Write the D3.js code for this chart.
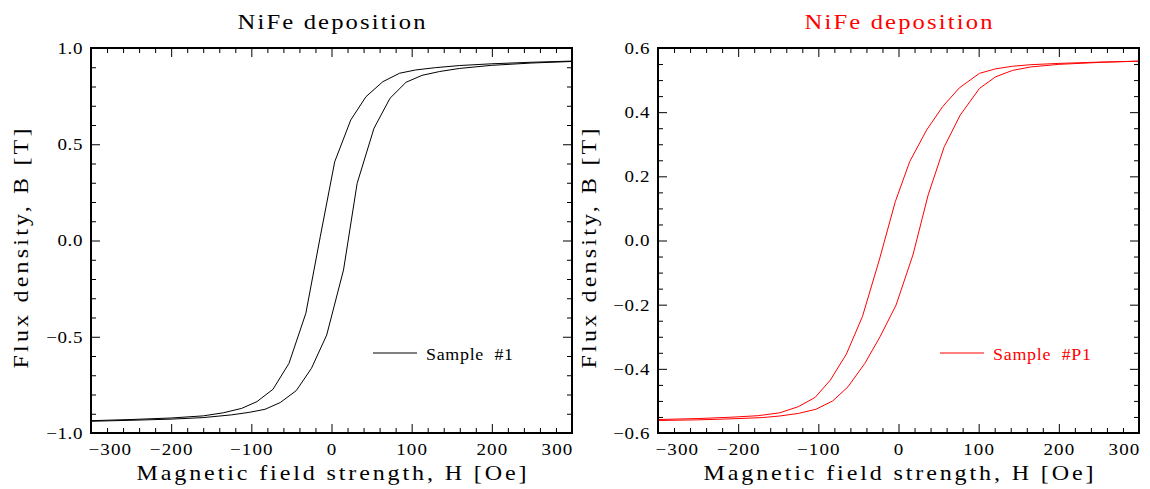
<!DOCTYPE html>
<html>
<head>
<meta charset="utf-8">
<script src="https://cdn.jsdelivr.net/npm/d3@7"></script>
<style>
  html, body { margin: 0; padding: 0; background: #fff; }
  svg { display: block; }
  text { font-family: "Liberation Serif", "DejaVu Serif", serif; white-space: pre; }
</style>
</head>
<body>
<svg id="chart" width="1150" height="489"></svg>
<script>
// Hysteresis loops of two NiFe depositions: flux density B [T] versus field H [Oe].

// Sample #1 — descending branch (from +saturation down)
const fieldDown1 = [300, 250, 200, 160, 130, 105, 85, 64, 43, 24, 4, -14, -32, -53, -73, -93, -112, -135, -160, -200, -250, -300];
const fluxDown1  = [0.932, 0.926, 0.918, 0.909, 0.898, 0.886, 0.869, 0.825, 0.747, 0.626, 0.409, 0.02, -0.378, -0.638, -0.773, -0.837, -0.872, -0.895, -0.911, -0.922, -0.930, -0.936];
// Sample #1 — ascending branch (from -saturation up)
const fieldUp1 = [-300, -250, -200, -160, -125, -103, -83, -64, -44, -25, -6, 15, 32, 53, 73, 93, 113, 135, 160, 200, 250, 300];
const fluxUp1  = [-0.939, -0.934, -0.928, -0.920, -0.906, -0.893, -0.877, -0.842, -0.780, -0.664, -0.491, -0.153, 0.297, 0.583, 0.739, 0.822, 0.858, 0.878, 0.894, 0.910, 0.922, 0.930];

// Sample #P1 — descending branch
const fieldDown2 = [300, 250, 200, 165, 142, 121, 101, 76, 55, 35, 14, -4, -24, -45, -65, -85, -104, -125, -148, -175, -210, -250, -300];
const fluxDown2  = [0.559, 0.556, 0.552, 0.548, 0.543, 0.535, 0.521, 0.476, 0.417, 0.344, 0.246, 0.121, -0.061, -0.237, -0.354, -0.435, -0.489, -0.518, -0.537, -0.546, -0.551, -0.555, -0.558];
// Sample #P1 — ascending branch
const fieldUp2 = [-300, -250, -210, -170, -148, -125, -103, -82, -63, -42, -23, -3, 18, 37, 57, 77, 101, 121, 142, 165, 200, 250, 300];
const fluxUp2  = [-0.561, -0.559, -0.556, -0.552, -0.547, -0.539, -0.526, -0.500, -0.456, -0.383, -0.300, -0.201, -0.045, 0.142, 0.292, 0.391, 0.474, 0.510, 0.530, 0.541, 0.549, 0.555, 0.559];

// Tick labels
const fieldTicks = [-300, -200, -100, 0, 100, 200, 300];
const fluxTicks1 = [-1.0, -0.5, 0.0, 0.5, 1.0];
const fluxTicks2 = [-0.6, -0.4, -0.2, 0.0, 0.2, 0.4, 0.6];

const titles = ["NiFe deposition", "NiFe deposition"];
const sampleNames = ["Sample  #1", "Sample  #P1"];
const xTitle = "Magnetic field strength, H [Oe]";
const yTitle = "Flux density, B [T]";

const STRETCH = 1.12; // horizontal glyph stretch for the broad plotter-style lettering

const svg = d3.select("#chart");
svg.append("rect").attr("width", 1150).attr("height", 489).attr("fill", "#fff");

// Text placed at (x, y), optionally rotated, stretched and spread to a given width.
function label(parent, { x, y, rotate = 0, text, size, width, anchor = "middle", fill = "#000" }) {
  return parent.append("text")
    .attr("transform", `translate(${x},${y}) rotate(${rotate}) scale(${STRETCH},1)`)
    .attr("text-anchor", anchor)
    .attr("fill", fill)
    .attr("textLength", width / STRETCH)
    .attr("lengthAdjust", "spacing")
    .style("font-size", size + "px")
    .text(text);
}

// Stretch axis tick labels in place, keeping their anchor offsets.
function stretchTicks(sel) {
  sel.each(function() {
    const t = d3.select(this);
    const x0 = +t.attr("x") || 0;
    t.attr("x", x0 / STRETCH).attr("transform", `scale(${STRETCH},1)`);
  });
}

const panels = [
  {
    left: 91, right: 572, top: 48, bottom: 433,
    yDomain: [-1, 1], yTicks: fluxTicks1, yMinorStep: 0.1,
    color: "#000", titleColor: "#000", legendColor: "#000",
    title: titles[0], name: sampleNames[0],
    branches: [[fieldDown1, fluxDown1], [fieldUp1, fluxUp1]],
    yLabelX: 28, legendX: 373, legendW: 87
  },
  {
    left: 658, right: 1139, top: 48, bottom: 433,
    yDomain: [-0.6, 0.6], yTicks: fluxTicks2, yMinorStep: 0.05,
    color: "#ff0000", titleColor: "#ff0000", legendColor: "#ff0000",
    title: titles[1], name: sampleNames[1],
    branches: [[fieldDown2, fluxDown2], [fieldUp2, fluxUp2]],
    yLabelX: 596, legendX: 940, legendW: 98
  }
];

const MAJOR = 9, MINOR = 5;

panels.forEach((p, i) => {
  const x = d3.scaleLinear().domain([-300, 300]).range([p.left, p.right]);
  const y = d3.scaleLinear().domain(p.yDomain).range([p.bottom, p.top]);
  const g = svg.append("g");

  const xMinor = d3.range(-300, 300.001, 20).filter(v => Math.abs(v % 100) > 1e-6);
  const nMinor = Math.round((p.yDomain[1] - p.yDomain[0]) / p.yMinorStep);
  const yMinor = d3.range(nMinor + 1).map(k => +(p.yDomain[0] + k * p.yMinorStep).toFixed(3))
    .filter(v => !p.yTicks.some(t => Math.abs(t - v) < 1e-6));

  const styleAxis = sel => {
    sel.select(".domain").remove();
    sel.selectAll(".tick line").attr("stroke", "#000").attr("stroke-width", 1);
    sel.selectAll(".tick text")
      .attr("fill", "#000")
      .style("font-size", "17px")
      .style("letter-spacing", "1px")
      .style("font-family", "'Liberation Serif', serif");
  };

  // bottom: major with labels, minor without
  const bottom = g.append("g").attr("transform", `translate(0,${p.bottom})`)
    .call(d3.axisBottom(x).tickValues(fieldTicks).tickSize(-MAJOR).tickPadding(10).tickFormat(d3.format("d")))
    .call(styleAxis);
  bottom.selectAll(".tick text").each(function(d) {
    if (d === -300) d3.select(this).attr("text-anchor", "start").attr("x", -3);
    if (d === 300) d3.select(this).attr("text-anchor", "end").attr("x", 1);
  });
  stretchTicks(bottom.selectAll(".tick text"));
  g.append("g").attr("transform", `translate(0,${p.bottom})`)
    .call(d3.axisBottom(x).tickValues(xMinor).tickSize(-MINOR).tickFormat(""))
    .call(styleAxis);

  // top
  g.append("g").attr("transform", `translate(0,${p.top})`)
    .call(d3.axisTop(x).tickValues(fieldTicks).tickSize(-MAJOR).tickFormat(""))
    .call(styleAxis);
  g.append("g").attr("transform", `translate(0,${p.top})`)
    .call(d3.axisTop(x).tickValues(xMinor).tickSize(-MINOR).tickFormat(""))
    .call(styleAxis);

  // left
  const leftAxis = g.append("g").attr("transform", `translate(${p.left},0)`)
    .call(d3.axisLeft(y).tickValues(p.yTicks).tickSize(-MAJOR).tickPadding(8).tickFormat(d3.format(".1f")))
    .call(styleAxis);
  leftAxis.selectAll(".tick text").style("letter-spacing", "0.5px");
  stretchTicks(leftAxis.selectAll(".tick text"));
  g.append("g").attr("transform", `translate(${p.left},0)`)
    .call(d3.axisLeft(y).tickValues(yMinor).tickSize(-MINOR).tickFormat(""))
    .call(styleAxis);

  // right
  g.append("g").attr("transform", `translate(${p.right},0)`)
    .call(d3.axisRight(y).tickValues(p.yTicks).tickSize(-MAJOR).tickFormat(""))
    .call(styleAxis);
  g.append("g").attr("transform", `translate(${p.right},0)`)
    .call(d3.axisRight(y).tickValues(yMinor).tickSize(-MINOR).tickFormat(""))
    .call(styleAxis);

  // data
  const clipId = "clip" + i;
  svg.append("clipPath").attr("id", clipId).append("rect")
    .attr("x", p.left).attr("y", p.top)
    .attr("width", p.right - p.left).attr("height", p.bottom - p.top);

  const line = d3.line().x(d => x(d[0])).y(d => y(d[1]));
  p.branches.forEach(([hs, bs]) => {
    g.append("path")
      .datum(hs.map((h, k) => [h, bs[k]]))
      .attr("d", line)
      .attr("clip-path", `url(#${clipId})`)
      .attr("fill", "none")
      .attr("stroke", p.color)
      .attr("stroke-width", 1)
      .attr("stroke-linejoin", "round");
  });

  // frame
  g.append("rect")
    .attr("x", p.left).attr("y", p.top)
    .attr("width", p.right - p.left).attr("height", p.bottom - p.top)
    .attr("fill", "none").attr("stroke", "#000").attr("stroke-width", 2);

  const cx = (p.left + p.right) / 2;

  label(g, { x: cx, y: 29, text: p.title, size: 22, width: 188, fill: p.titleColor });
  label(g, { x: cx, y: 480, text: xTitle, size: 21.5, width: 390 });
  label(g, { x: p.yLabelX, y: (p.top + p.bottom) / 2 + 8, rotate: -90, text: yTitle, size: 21.5, width: 240 });

  // legend
  g.append("line")
    .attr("x1", p.legendX).attr("x2", p.legendX + 44)
    .attr("y1", 353).attr("y2", 353)
    .attr("stroke", p.legendColor).attr("stroke-width", 1);
  label(g, { x: p.legendX + 53, y: 360, text: p.name, size: 16, width: p.legendW, anchor: "start", fill: p.legendColor });
});
</script>
</body>
</html>
